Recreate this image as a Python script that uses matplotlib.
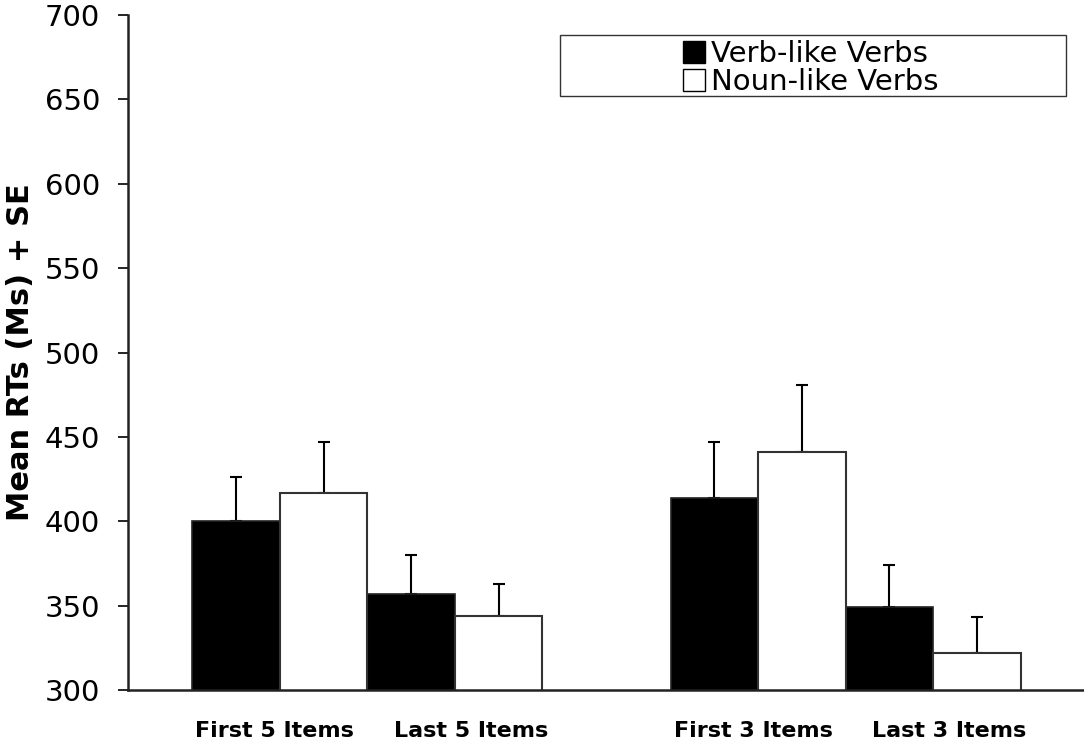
import matplotlib

matplotlib.use("Agg")

import matplotlib.pyplot as plt
import numpy as np
from matplotlib.patches import Patch, Rectangle

CATEGORIES = ["First 5 Items", "Last 5 Items", "First 3 Items", "Last 3 Items"]
VERB_LIKE = [400, 357, 414, 349]
VERB_LIKE_SE = [26, 23, 33, 25]
NOUN_LIKE = [417, 344, 441, 322]
NOUN_LIKE_SE = [30, 19, 40, 21]
Y_TICKS = [300, 350, 400, 450, 500, 550, 600, 650, 700]

W, H = 1084, 742
BAR_W = 1.0
centers = np.array([1.737, 3.737, 7.2, 9.2])
# category labels in the original sit a little off the bar-group centres
label_shift = np.array([-0.06, 0.18, -0.05, 0.18])

fig = plt.figure(figsize=(W / 100, H / 100), dpi=100)
fig.patch.set_facecolor("white")
ax = fig.add_axes([128 / W, 52 / H, 956 / W, 675 / H])

err_kw = dict(ecolor="black", elinewidth=1.5, capsize=4.3, capthick=1.5)
ax.bar(centers - BAR_W / 2, VERB_LIKE, width=BAR_W, color="black",
       edgecolor="#222222", linewidth=1.2, zorder=2)
ax.bar(centers + BAR_W / 2, NOUN_LIKE, width=BAR_W, color="white",
       edgecolor="#333333", linewidth=1.5, zorder=2)
ax.errorbar(centers - BAR_W / 2, VERB_LIKE, yerr=[np.zeros(4), VERB_LIKE_SE],
            fmt="none", zorder=1, **err_kw)
ax.errorbar(centers + BAR_W / 2, NOUN_LIKE, yerr=[np.zeros(4), NOUN_LIKE_SE],
            fmt="none", zorder=1, **err_kw)

ax.set_xlim(0, 956 / 87.5)
ax.set_ylim(300, 700)
ax.set_yticks(Y_TICKS)
ax.set_yticklabels([str(t) for t in Y_TICKS], fontsize=21)
ax.set_xticks(centers + label_shift)
ax.set_xticklabels(CATEGORIES, fontsize=16, fontweight="bold")
ax.tick_params(axis="x", length=0, pad=22)
ax.tick_params(axis="y", direction="out", length=7.2, width=1.2, pad=13)

for side in ["top", "right"]:
    ax.spines[side].set_visible(False)
for side in ["left", "bottom"]:
    ax.spines[side].set_color("#222222")
    ax.spines[side].set_linewidth(1.8)

ax.set_ylabel("Mean RTs (Ms) + SE", fontsize=22, fontweight="bold")
ax.yaxis.set_label_coords((35 - 128) / 956, 0.5)

# legend box drawn separately so it can be wider than its entries
fig.add_artist(Rectangle((560 / W, 1 - 96 / H), 506 / W, 61 / H, transform=fig.transFigure,
                         facecolor="white", edgecolor="#333333", linewidth=1.0, zorder=5))
handles = [
    Patch(facecolor="black", edgecolor="black", label="Verb-like Verbs"),
    Patch(facecolor="white", edgecolor="black", label="Noun-like Verbs"),
]
leg = fig.legend(handles=handles, loc="center", bbox_to_anchor=(811 / W, 1 - 68 / H),
                 fontsize=21, frameon=False, borderpad=0, labelspacing=0.0,
                 handlelength=0.75, handleheight=0.75, handletextpad=0.2)
leg.set_zorder(6)

fig.savefig("out.png", dpi=100, facecolor="white")
